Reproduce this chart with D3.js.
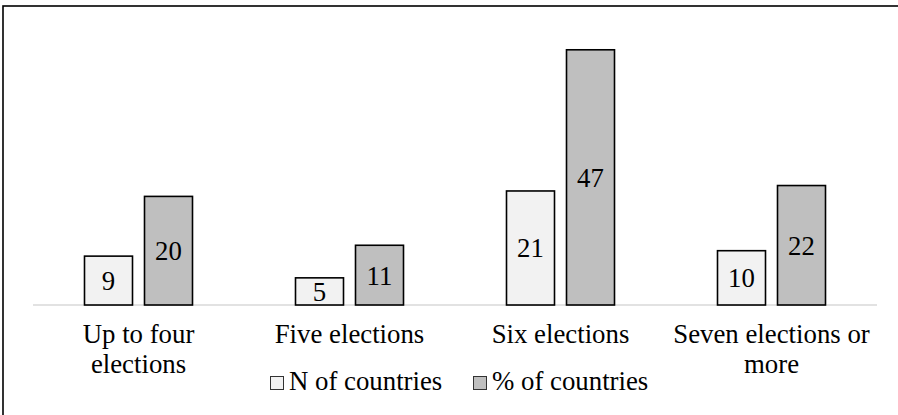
<!DOCTYPE html>
<html>
<head>
<meta charset="utf-8">
<script src="https://cdn.jsdelivr.net/npm/d3@7"></script>
<style>
  html, body { margin: 0; padding: 0; background: #fff; }
  svg { display: block; }
</style>
</head>
<body>
<svg id="chart" width="898" height="415"></svg>
<script>
const categories = ["Up to four elections", "Five elections", "Six elections", "Seven elections or more"];
const seriesNames = ["N of countries", "% of countries"];
const nCountries = [9, 5, 21, 10];
const pctCountries = [20, 11, 47, 22];
const seriesColors = ["#f2f2f2", "#bfbfbf"];

// pick an installed serif font
function pickFont(cands) {
  const c = document.createElement("canvas").getContext("2d");
  const s = "Up to four elections 0123456789 %";
  for (const f of cands) {
    for (const base of ["monospace", "sans-serif"]) {
      c.font = `26px ${base}`; const w0 = c.measureText(s).width;
      c.font = `26px "${f}", ${base}`; const w1 = c.measureText(s).width;
      if (Math.abs(w0 - w1) > 0.5) return `"${f}", serif`;
    }
  }
  return "serif";
}
const FONT = pickFont(["Liberation Serif", "Times New Roman", "Tinos", "Nimbus Roman", "Nimbus Roman No9 L", "FreeSerif", "Noto Serif", "DejaVu Serif"]);
const FS = 26.8;

const svg = d3.select("#chart").attr("font-family", FONT);
const W = 898, H = 415;

// outer border
svg.append("rect")
  .attr("x", 3).attr("y", 6)
  .attr("width", W + 10).attr("height", H + 10)
  .attr("fill", "none").attr("stroke", "#000").attr("stroke-width", 1.6);

const baseY = 305;
const x0 = d3.scaleBand().domain(categories).range([33, 877]).padding(0);
const y = d3.scaleLinear().domain([0, 50]).range([baseY, 33.5]);
const x1 = d3.scaleBand().domain(seriesNames).range([-54, 54]).paddingInner(0.2).paddingOuter(0);

const seriesValues = [nCountries, pctCountries];
const data = categories.map((c, i) => ({
  cat: c,
  vals: seriesNames.map((s, j) => ({ s, j, v: seriesValues[j][i] }))
}));

// baseline
svg.append("line")
  .attr("x1", x0.range()[0]).attr("x2", x0.range()[1])
  .attr("y1", baseY).attr("y2", baseY)
  .attr("stroke", "#d9d9d9").attr("stroke-width", 1.5);

const groups = svg.selectAll("g.grp").data(data).join("g")
  .attr("class", "grp")
  .attr("transform", d => `translate(${x0(d.cat) + x0.bandwidth() / 2},0)`);

groups.selectAll("rect").data(d => d.vals).join("rect")
  .attr("x", d => x1(d.s))
  .attr("y", d => y(d.v))
  .attr("width", x1.bandwidth())
  .attr("height", d => y(0) - y(d.v))
  .attr("fill", d => seriesColors[d.j])
  .attr("stroke", "#000").attr("stroke-width", 1.6);

groups.selectAll("text.val").data(d => d.vals).join("text")
  .attr("class", "val")
  .attr("x", d => x1(d.s) + x1.bandwidth() / 2)
  .attr("y", d => (y(d.v) + y(0)) / 2 + 9.5)
  .attr("text-anchor", "middle")
  .attr("font-family", FONT)
  .attr("font-size", FS)
  .attr("fill", "#000")
  .text(d => d.v);

// category labels with wrapping
const maxW = 205;
groups.each(function(d) {
  const g = d3.select(this);
  const t = g.append("text").attr("text-anchor", "middle")
    .attr("font-family", FONT).attr("font-size", FS).attr("fill", "#000").attr("y", 343);
  const words = d.cat.split(" ");
  let lines = [], cur = [];
  const probe = t.append("tspan");
  words.forEach(w => {
    const trial = cur.concat([w]).join(" ");
    probe.text(trial);
    if (probe.node().getComputedTextLength() > maxW && cur.length) {
      lines.push(cur.join(" "));
      cur = [w];
    } else {
      cur.push(w);
    }
  });
  lines.push(cur.join(" "));
  probe.remove();
  lines.forEach((ln, i) => {
    t.append("tspan").attr("x", 0).attr("y", 343 + i * 30).text(ln);
  });
});

// legend
const legendX = [270, 473];
const leg = svg.selectAll("g.leg").data(seriesNames).join("g")
  .attr("class", "leg")
  .attr("transform", (d, i) => `translate(${legendX[i]},376)`);
leg.append("rect")
  .attr("x", 0.5).attr("y", 0.5).attr("width", 13).attr("height", 13)
  .attr("fill", (d, i) => seriesColors[i])
  .attr("stroke", "#333").attr("stroke-width", 1);
leg.append("text")
  .attr("x", 19).attr("y", 14)
  .attr("font-family", FONT)
  .attr("font-size", FS)
  .attr("fill", "#000")
  .text(d => d);
</script>
</body>
</html>
